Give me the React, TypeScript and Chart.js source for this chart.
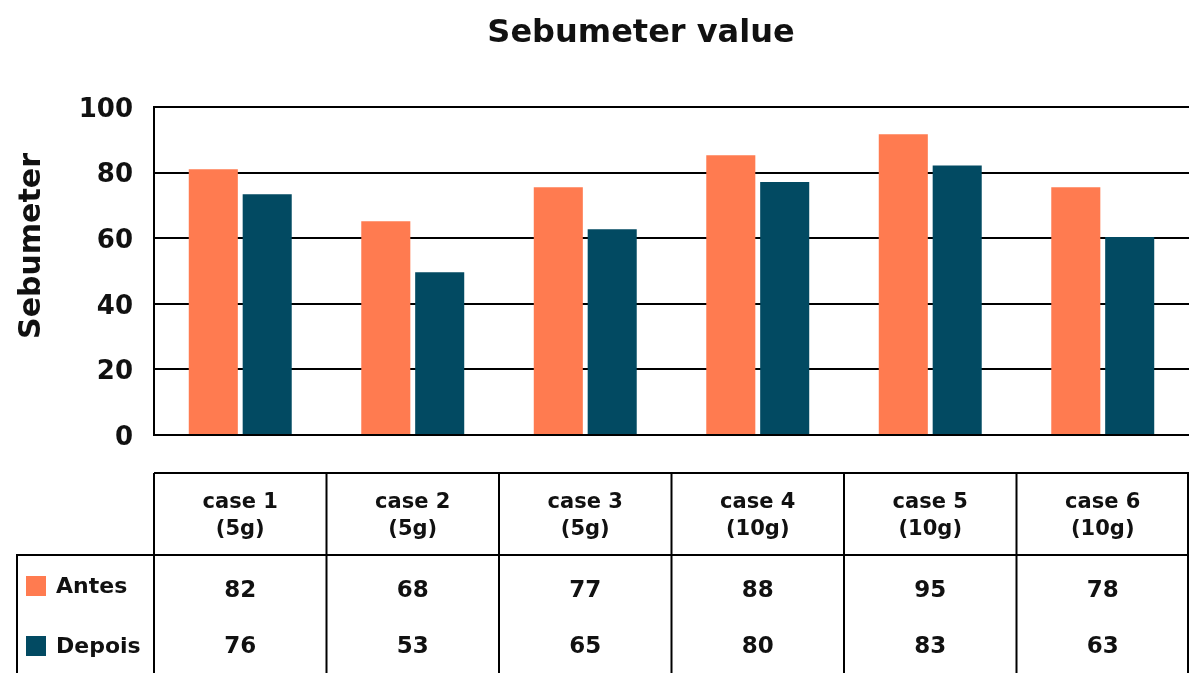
import React, { useEffect, useRef } from "react";
import { Chart, registerables } from "chart.js";

Chart.register(...registerables);

const cases = ["case 1", "case 2", "case 3", "case 4", "case 5", "case 6"];
const doses = ["(5g)", "(5g)", "(5g)", "(10g)", "(10g)", "(10g)"];
const antesBars = [81, 65.2, 75.5, 85.3, 91.7, 75.5];
const depoisBars = [73.4, 49.6, 62.7, 77.1, 82.2, 60.4];
const antesTable = [82, 68, 77, 88, 95, 78];
const depoisTable = [76, 53, 65, 80, 83, 63];
const yTicks = [0, 20, 40, 60, 80, 100];

const ORANGE = "#FF7B50";
const TEAL = "#024A62";
const FONT = "'DejaVu Sans'";

const tablePlugin = {
  id: "tablePlugin",
  afterDraw(chart: any) {
    const ctx = chart.ctx;
    const x = chart.scales.x;
    const area = chart.chartArea;
    ctx.save();
    // title
    ctx.fillStyle = "#111";
    ctx.font = `bold 32px ${FONT}`;
    ctx.textAlign = "center";
    ctx.textBaseline = "middle";
    ctx.fillText("Sebumeter value", 641, 34);

    // y-axis title
    ctx.save();
    ctx.translate(30, 246);
    ctx.rotate(-Math.PI / 2);
    ctx.font = `bold 30px ${FONT}`;
    ctx.fillText("Sebumeter", 0, 2);
    ctx.restore();

    const n = cases.length;
    const half = (area.right - area.left) / n / 2;
    const headTop = 473;
    const headBottom = 555;
    const bottom = chart.height + 2;
    ctx.strokeStyle = "#000";
    ctx.lineWidth = 2;
    ctx.beginPath();
    ctx.moveTo(area.left, headTop);
    ctx.lineTo(area.right, headTop);
    ctx.moveTo(16, headBottom);
    ctx.lineTo(area.right, headBottom);
    ctx.moveTo(17, headBottom);
    ctx.lineTo(17, bottom);
    for (let i = 0; i < n; i++) {
      const left = x.getPixelForValue(i) - half;
      ctx.moveTo(left, headTop);
      ctx.lineTo(left, bottom);
    }
    ctx.moveTo(area.right - 1, headTop);
    ctx.lineTo(area.right - 1, bottom);
    ctx.stroke();

    ctx.fillStyle = "#111";
    ctx.textAlign = "center";
    for (let i = 0; i < n; i++) {
      const cx = x.getPixelForValue(i);
      ctx.font = `bold 21px ${FONT}`;
      ctx.fillText(cases[i], cx, 503);
      ctx.fillText(doses[i], cx, 530);
      ctx.font = `bold 23px ${FONT}`;
      ctx.fillText(String(antesTable[i]), cx, 591);
      ctx.fillText(String(depoisTable[i]), cx, 647);
    }
    // legend
    ctx.fillStyle = ORANGE;
    ctx.fillRect(26, 576, 20, 20);
    ctx.fillStyle = TEAL;
    ctx.fillRect(26, 636, 20, 20);
    ctx.fillStyle = "#111";
    ctx.textAlign = "left";
    ctx.font = `bold 22px ${FONT}`;
    ctx.fillText("Antes", 56, 587);
    ctx.fillText("Depois", 56, 647);
    ctx.restore();
  },
};

export default function App() {
  const ref = useRef<HTMLCanvasElement | null>(null);
  useEffect(() => {
    if (!ref.current) return;
    const chart = new Chart(ref.current, {
      type: "bar",
      data: {
        labels: cases.map((c, i) => `${c} ${doses[i]}`),
        datasets: [
          { label: "Antes", data: antesBars, backgroundColor: ORANGE, barPercentage: 0.91, categoryPercentage: 0.625 },
          { label: "Depois", data: depoisBars, backgroundColor: TEAL, barPercentage: 0.91, categoryPercentage: 0.625 },
        ],
      },
      options: {
        responsive: false,
        animation: false,
        layout: { padding: { top: 107, bottom: 238, left: 0, right: 0 } },
        plugins: {
          legend: { display: false },
          title: { display: false },
          tooltip: { enabled: false },
        },
        scales: {
          x: { display: false },
          y: {
            min: 0,
            max: 100,
            afterBuildTicks: (s: any) => {
              s.ticks = yTicks.map((v) => ({ value: v }));
            },
            afterFit: (s: any) => {
              s.width = 154;
            },
            ticks: {
              color: "#111",
              padding: 21,
              labelOffset: 3,
              font: { family: "DejaVu Sans", size: 26, weight: "bold" },
            },
            grid: { color: "#000", lineWidth: 2, drawTicks: false },
            border: { display: true, color: "#000", width: 2 },
            title: { display: false },
          },
        },
      },
      plugins: [tablePlugin],
    });
    return () => chart.destroy();
  }, []);
  return (
    <div style={{ position: "fixed", left: 0, top: 0, width: 1189, height: 673, background: "#fff" }}>
      <canvas ref={ref} width={1189} height={673} />
    </div>
  );
}
